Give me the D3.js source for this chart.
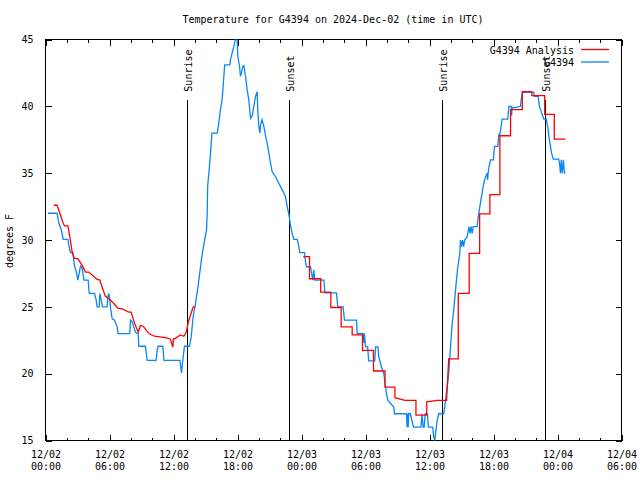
<!DOCTYPE html>
<html><head><meta charset="utf-8">
<script src="https://cdn.jsdelivr.net/npm/d3@7/dist/d3.min.js"></script>
<style>
body{margin:0;background:#fff;}
text{font-family:"DejaVu Sans Mono","Liberation Mono",monospace;font-size:10px;fill:#000;}
</style></head><body>
<svg id="c" width="640" height="480"></svg>
<script>
// ---- data (hours since 2024-12-02 00:00 UTC, degrees F) ----
const title = "Temperature for G4394 on 2024-Dec-02 (time in UTC)";
const yLabel = "degrees F";
const xTickHours = [0,6,12,18,24,30,36,42,48,54];
const xTickDates = ["12/02","12/02","12/02","12/02","12/03","12/03","12/03","12/03","12/04","12/04"];
const xTickTimes = ["00:00","06:00","12:00","18:00","00:00","06:00","12:00","18:00","00:00","06:00"];
const xMinorHours = d3.range(0,55,2);
const yTicks = [15,20,25,30,35,40,45];
const sunNames = ["Sunrise","Sunset","Sunrise","Sunset"];
const sunHours = [13.25,22.8,37.2,46.8];
const seriesNames = ["G4394 Analysis","G4394"];

const analysisHours1 = [0.78,1.09,1.34,1.66,1.78,2.1,2.28,2.5,2.72,3.03,3.44,3.75,4.06,4.84,5.1,5.3,5.6,5.94,6.4,6.78,7.2,7.8,8.03,8.34,8.69,8.9,9.16,9.69,10.2,11.25,11.7,11.94,12.0,12.1,12.66,12.97,13.2,13.4,13.85,14.05];
const analysisTemps1 = [32.6,32.6,32.0,31.25,31.05,31.05,30.25,29.1,28.6,28.6,28.1,27.6,27.6,27.05,27.0,26.5,25.8,25.6,25.25,24.9,24.85,24.6,24.6,23.8,23.1,23.6,23.55,23.0,22.8,22.7,22.6,22.0,22.6,22.6,22.9,22.8,23.1,23.9,25.0,25.0];
const analysisHours2 = [24.16,24.75,24.75,25.8,25.8,26.75,26.75,27.72,27.72,28.75,28.75,29.72,29.72,30.75,30.75,31.83,31.83,32.76,32.76,33.7,34.73,34.73,35.74,35.74,36.7,37.6,37.7,37.8,38.7,38.7,39.72,39.72,40.7,40.7,41.66,41.66,42.6,42.6,43.6,43.6,44.7,44.7,45.6,45.6,46.8,46.8,47.7,47.7,48.75];
const analysisTemps2 = [28.75,28.75,27.1,27.1,26.1,26.1,24.95,24.95,23.5,23.5,22.9,22.9,21.75,21.75,20.2,20.2,19.0,19.0,18.2,18.0,18.0,16.9,16.9,17.9,18.0,18.0,19.5,21.1,21.1,26.0,26.0,29.0,29.0,31.95,31.95,33.4,33.4,37.8,37.8,39.75,39.75,41.1,41.1,40.8,40.8,39.4,39.4,37.55,37.55];

const obsHours = [0.22,1.09,1.25,1.47,1.66,2.1,2.19,2.34,2.56,2.72,2.9,3.03,3.16,3.28,3.44,3.6,4.0,4.1,4.6,4.75,4.84,5.03,5.1,5.22,5.34,5.78,5.84,5.94,6.03,6.1,6.25,6.47,6.72,6.81,7.9,7.97,8.12,8.28,8.44,8.69,8.75,9.37,9.53,10.37,10.47,10.56,11.0,11.1,12.6,12.75,12.87,13.03,13.5,13.66,13.84,14.06,14.28,14.47,14.7,15.1,15.16,15.2,15.37,15.47,15.56,15.6,16.1,16.2,16.3,16.4,16.56,16.72,16.8,17.28,17.34,17.5,17.66,17.8,17.97,18.03,18.19,18.28,18.37,18.5,18.6,18.75,18.9,19.06,19.22,19.38,19.53,19.69,19.84,19.9,20.0,20.1,20.16,20.3,20.47,20.6,20.78,20.94,21.1,21.25,21.56,21.87,22.19,22.5,22.66,22.8,22.97,23.12,23.28,23.6,23.75,23.84,24.28,24.37,24.47,24.84,24.94,25.06,25.15,25.25,26.1,26.19,27.28,27.4,27.9,28.03,29.16,29.22,29.78,29.85,29.9,30.0,30.2,30.3,30.87,30.94,31.16,31.25,31.5,31.72,31.87,31.97,32.1,32.65,32.72,33.84,33.9,33.95,34.0,34.05,34.2,34.5,35.2,35.3,35.4,35.5,35.6,35.8,35.9,36.3,36.4,36.5,36.56,36.72,36.87,37.34,37.5,37.8,37.97,38.1,38.3,38.53,38.66,38.75,38.84,38.9,39.0,39.1,39.2,39.3,39.53,39.7,39.8,39.9,40.0,40.1,40.47,40.53,40.6,40.72,40.84,40.94,41.03,41.16,41.4,41.45,41.5,41.56,41.72,42.0,42.03,42.1,42.4,42.5,42.6,42.72,42.8,43.34,43.44,43.66,43.7,43.75,44.0,44.53,44.6,44.7,45.78,45.84,46.2,46.25,46.34,46.56,46.72,46.95,47.1,47.19,47.34,47.44,47.6,48.12,48.22,48.28,48.35,48.45,48.55,48.65,48.75];
const obsTemps = [32.0,32.0,31.25,30.8,30.05,30.05,29.6,29.05,29.05,28.05,27.6,27.0,27.5,28.05,27.9,27.0,27.0,26.0,26.0,25.5,25.0,25.0,26.0,25.5,25.0,25.0,25.75,26.0,25.5,24.9,24.1,24.0,23.5,23.0,23.0,24.0,23.9,23.5,23.1,23.0,22.05,22.05,21.0,21.0,21.75,22.05,22.05,21.0,21.0,20.05,21.0,22.05,22.05,22.75,24.25,25.25,26.4,27.6,29.0,30.8,32.0,34.0,35.5,36.5,37.5,38.0,38.0,38.5,39.1,39.75,40.5,42.25,43.1,43.1,43.5,44.0,44.5,45.0,45.0,43.75,43.0,42.25,42.5,43.0,43.05,42.25,41.25,40.5,39.1,39.3,40.0,40.75,41.1,39.75,38.5,38.0,38.6,39.0,38.5,37.9,37.25,36.5,35.75,35.1,34.75,34.25,33.75,33.25,32.5,32.0,31.1,30.5,30.05,30.05,29.5,29.05,29.05,28.4,28.0,28.0,27.55,27.0,27.75,27.0,27.0,26.05,26.05,25.0,25.0,24.0,24.0,23.0,23.0,22.3,23.0,22.0,22.0,20.95,20.95,22.0,22.0,21.25,20.5,20.0,19.0,18.5,18.0,17.5,17.0,17.0,16.0,17.0,16.0,17.0,17.0,16.0,16.0,17.0,16.0,16.0,17.0,17.0,16.0,16.0,15.25,15.0,15.5,16.5,17.0,17.0,18.0,20.0,22.0,23.5,25.0,27.05,28.0,28.5,29.0,30.0,29.5,30.0,29.5,30.0,30.25,31.0,30.5,31.0,30.5,31.0,31.0,31.5,31.9,32.5,33.1,33.5,34.0,34.5,35.0,34.5,35.0,35.4,36.0,36.0,36.5,37.0,37.0,37.9,37.9,38.5,39.05,39.05,40.0,40.0,39.3,39.9,39.9,40.0,40.5,41.05,41.05,40.75,40.75,40.25,39.9,39.4,39.05,39.05,38.4,37.75,37.0,36.5,36.05,36.05,35.5,35.0,36.0,35.0,36.0,35.0,35.0];

// ---- drawing ----
const svg = d3.select("#c");
const L = 45.5, R = 621.5, T = 39.5, B = 440.5;
const x = d3.scaleLinear().domain([0,54]).range([L,R]);
const y = d3.scaleLinear().domain([15,45]).range([B,T]);

svg.append("text").attr("x",333).attr("y",23).attr("text-anchor","middle").text(title);
svg.append("text").attr("transform","translate(13,241) rotate(-90)").attr("text-anchor","middle").text(yLabel);

function styleAxis(g){ g.select(".domain").remove(); g.selectAll("line").attr("stroke","#000").attr("shape-rendering","crispEdges"); }

// x minor ticks
svg.append("g").attr("transform",`translate(0,${B})`).call(d3.axisBottom(x).tickValues(xMinorHours).tickSize(-3).tickFormat("")).call(styleAxis);
svg.append("g").attr("transform",`translate(0,${T})`).call(d3.axisTop(x).tickValues(xMinorHours).tickSize(-3).tickFormat("")).call(styleAxis);
// x major ticks with labels
const xb = svg.append("g").attr("transform",`translate(0,${B})`)
  .call(d3.axisBottom(x).tickValues(xTickHours).tickSize(-6).tickPadding(0).tickFormat(""))
  .call(styleAxis);
xb.selectAll(".tick").each(function(d,i){
  const t = d3.select(this).append("text").attr("text-anchor","middle").attr("fill","#000")
    .style("font-family",'"DejaVu Sans Mono",monospace').style("font-size","10px");
  t.append("tspan").attr("x",0).attr("y",17.5).text(xTickDates[i]);
  t.append("tspan").attr("x",0).attr("y",29.5).text(xTickTimes[i]);
});
svg.append("g").attr("transform",`translate(0,${T})`).call(d3.axisTop(x).tickValues(xTickHours).tickSize(-6).tickFormat("")).call(styleAxis);
// y ticks
const yl = svg.append("g").attr("transform",`translate(${L},0)`)
  .call(d3.axisLeft(y).tickValues(yTicks).tickSize(-6).tickPadding(12).tickFormat(d3.format("d")))
  .call(styleAxis);
yl.selectAll("text").attr("fill","#000").style("font-family",'"DejaVu Sans Mono",monospace').style("font-size","10px");
svg.append("g").attr("transform",`translate(${R},0)`).call(d3.axisRight(y).tickValues(yTicks).tickSize(-6).tickFormat("")).call(styleAxis);

// border
svg.append("rect").attr("x",L).attr("y",T).attr("width",R-L).attr("height",B-T)
  .attr("fill","none").attr("stroke","#000").attr("shape-rendering","crispEdges");

// sunrise / sunset
const sunTop = 40.5;
sunHours.forEach((h,i)=>{
  const sx = Math.round(x(h)) + 0.5;
  svg.append("line").attr("x1",sx).attr("x2",sx).attr("y1",y(sunTop)).attr("y2",B)
    .attr("stroke","#000").attr("shape-rendering","crispEdges");
  svg.append("text").attr("transform",`translate(${sx+4.5},${y(sunTop)-8}) rotate(-90)`)
    .attr("text-anchor","start").text(sunNames[i]);
});

const clip = svg.append("clipPath").attr("id","pc").append("rect").attr("x",L).attr("y",T).attr("width",R-L).attr("height",B-T+1);
const line = d3.line().x(d=>x(d[0])).y(d=>y(d[1]));
const red = "#ff0000", blue = "#0a86f5";
const g = svg.append("g").attr("clip-path","url(#pc)");
g.append("path").datum(obsHours.map((h,i)=>[h,obsTemps[i]])).attr("d",line)
  .attr("fill","none").attr("stroke",blue).attr("stroke-width",1.3);
g.append("path").datum(analysisHours1.map((h,i)=>[h,analysisTemps1[i]])).attr("d",line)
  .attr("fill","none").attr("stroke",red).attr("stroke-width",1.3);
g.append("path").datum(analysisHours2.map((h,i)=>[h,analysisTemps2[i]])).attr("d",line)
  .attr("fill","none").attr("stroke",red).attr("stroke-width",1.3);

// legend
[red,blue].forEach((c,i)=>{
  const ly = 49.5 + i*12.5;
  svg.append("text").attr("x",574).attr("y",ly+4).attr("text-anchor","end").text(seriesNames[i]);
  svg.append("line").attr("x1",581).attr("x2",609).attr("y1",ly).attr("y2",ly).attr("stroke",c).attr("stroke-width",1.3);
});
</script>
</body></html>
